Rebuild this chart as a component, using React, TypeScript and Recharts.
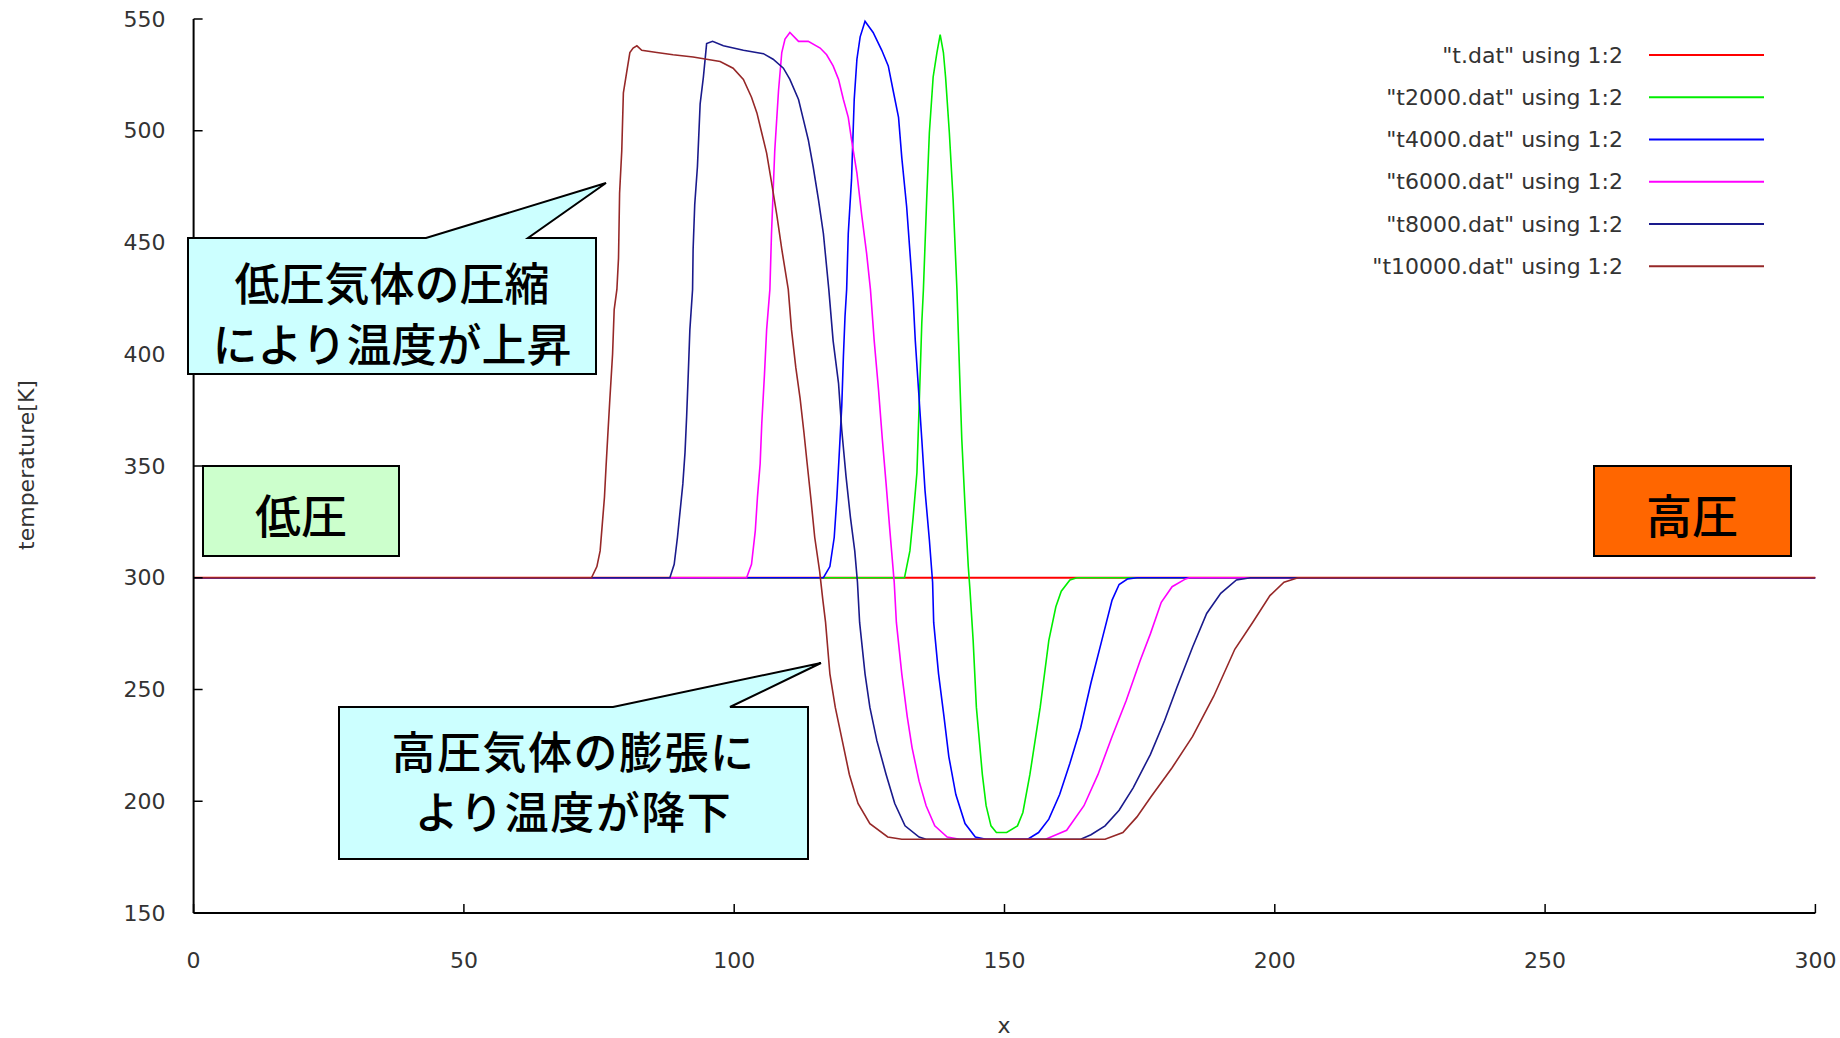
import React from "react";
import { LineChart, Line, XAxis, YAxis, Legend } from "recharts";

// temperature profiles [x, temperature]
const T_DAT: [number, number][] = [[0, 300], [300, 300]];

const T2000: [number, number][] = [
  [0, 300], [131.5, 300], [132.5, 312], [133.1, 327], [133.8, 347], [134.1, 369], [134.4, 391],
  [134.7, 414], [135.0, 429], [135.6, 469], [136.1, 499], [136.8, 524], [137.5, 535], [138.1, 543],
  [138.7, 535], [139.1, 524], [139.8, 499], [140.5, 469], [141.2, 429], [141.7, 391], [142.1, 362],
  [142.7, 332], [143.3, 305], [143.6, 295], [144.2, 272], [144.8, 242], [145.9, 212], [146.6, 198],
  [147.5, 189], [148.5, 186], [150.4, 186], [152.4, 189], [153.4, 195], [154.7, 212], [156.6, 242],
  [158.2, 272], [159.5, 287], [160.5, 294], [162.1, 299], [163.4, 300], [300, 300],
];

const T4000: [number, number][] = [
  [0, 300], [116.5, 300], [117.7, 305], [118.5, 318], [119.0, 336], [119.4, 354], [119.9, 377],
  [120.2, 399], [120.5, 417], [120.8, 429], [121.1, 454], [121.7, 478], [122.2, 514], [122.7, 532],
  [123.3, 542], [124.2, 549], [125.7, 544], [127.3, 536], [128.5, 529], [129.4, 518], [130.4, 506],
  [131.0, 488], [131.9, 466], [132.8, 436], [133.1, 425], [133.5, 406], [134.1, 384], [134.7, 362],
  [135.3, 339], [136.1, 317], [136.7, 298], [136.9, 280], [137.8, 257], [138.8, 238], [139.7, 220],
  [141.0, 203], [142.7, 190], [144.6, 184], [146.6, 183], [154.3, 183], [156.3, 186], [158.2, 192],
  [160.2, 203], [162.1, 217], [164.1, 233], [166.0, 253], [168.0, 272], [169.9, 290], [171.2, 297],
  [172.8, 299.5], [174.5, 300], [300, 300],
];

const T6000: [number, number][] = [
  [0, 300], [102.3, 300], [103.2, 306], [103.9, 321], [104.3, 336], [104.8, 351], [105.1, 369],
  [105.6, 391], [106.0, 411], [106.6, 429], [106.9, 454], [107.5, 491], [108.2, 518], [108.8, 535],
  [109.4, 541], [110.3, 544], [111.9, 540], [113.7, 540], [115.9, 537], [117.1, 534], [118.3, 529],
  [119.3, 523], [120.2, 514], [121.1, 506], [121.7, 496], [122.7, 481], [123.6, 462], [124.5, 445],
  [125.2, 429], [125.9, 406], [126.7, 384], [127.4, 362], [128.1, 342], [128.8, 321], [129.6, 298],
  [130.0, 280], [131.0, 257], [132.0, 238], [132.9, 224], [134.2, 209], [135.5, 198], [137.1, 189],
  [139.4, 184], [141.7, 183], [157.6, 183], [161.5, 187], [164.7, 198], [167.3, 212], [169.9, 229],
  [172.5, 245], [175.1, 263], [177.0, 275], [179.0, 289], [181.0, 296], [183.5, 299.5], [184.2, 300],
  [300, 300],
];

const T8000: [number, number][] = [
  [0, 300], [88.1, 300], [88.9, 306], [89.5, 318], [90.0, 330], [90.5, 342], [90.9, 356], [91.2, 372],
  [91.5, 391], [91.8, 411], [92.3, 429], [92.4, 447], [92.7, 467], [93.2, 484], [93.7, 512], [94.3, 524],
  [94.9, 539], [96.0, 540], [98.0, 538], [101.7, 536], [105.4, 534.5], [107.2, 532], [109.1, 528],
  [110.3, 523], [111.9, 514], [112.8, 505], [113.7, 496], [114.6, 484], [115.6, 469], [116.5, 454],
  [117.5, 429], [118.3, 406], [119.3, 387], [119.9, 366], [120.7, 345], [121.5, 327], [122.3, 312],
  [122.8, 298], [123.2, 280], [124.2, 257], [125.1, 242], [126.4, 227], [128.1, 212], [129.7, 199],
  [131.6, 189], [134.2, 184], [135.5, 183], [164.1, 183], [166.0, 185], [168.6, 189], [171.2, 196],
  [173.8, 206], [177.0, 221], [179.6, 236], [181.9, 251], [184.8, 269], [187.4, 284], [190.0, 293],
  [192.9, 299], [195.5, 300], [300, 300],
];

const T10000: [number, number][] = [
  [0, 300], [73.6, 300], [74.6, 305], [75.2, 312], [75.6, 324], [76.0, 336], [76.3, 350], [76.6, 363],
  [77.0, 380], [77.5, 400], [77.8, 420], [78.3, 429], [78.6, 443], [78.8, 472], [79.2, 491], [79.5, 517],
  [80.1, 526], [80.7, 535], [81.3, 537], [82.0, 538], [82.9, 536], [85.7, 535], [88.7, 534], [92.4, 533],
  [94.9, 532], [97.4, 531], [99.8, 528], [101.7, 523], [103.2, 515], [104.2, 508], [105.1, 499],
  [106.0, 490], [106.9, 477], [107.9, 462], [108.8, 447], [110.0, 429], [110.6, 411], [111.4, 394],
  [112.2, 380], [112.9, 365], [113.5, 351], [114.2, 335], [114.9, 318], [115.8, 303], [116.4, 290],
  [116.9, 280], [117.7, 257], [118.7, 242], [120.0, 227], [121.3, 212], [122.9, 199], [125.1, 190],
  [128.4, 184], [131.0, 183], [168.6, 183], [171.9, 186], [174.5, 193], [177.1, 202], [181.0, 215],
  [184.8, 229], [188.7, 247], [192.6, 268], [195.9, 280], [199.1, 292], [201.7, 298], [204.3, 300],
  [300, 300],
];

const SERIES_NAMES = [
  '"t.dat" using 1:2',
  '"t2000.dat" using 1:2',
  '"t4000.dat" using 1:2',
  '"t6000.dat" using 1:2',
  '"t8000.dat" using 1:2',
  '"t10000.dat" using 1:2',
];
const SERIES_DATA = [T_DAT, T2000, T4000, T6000, T8000, T10000];
const COLORS = ["#ff0000", "#00ee00", "#0000ff", "#ff00ff", "#1a1a8c", "#962828"];

const X_TICKS = [0, 50, 100, 150, 200, 250, 300];
const Y_TICKS = [150, 200, 250, 300, 350, 400, 450, 500, 550];

const W = 1840;
const H = 1038;
const FONT = "'DejaVu Sans', sans-serif";
const JP = "'Noto Sans CJK JP', sans-serif";
const TICK = 9;

const toPts = (arr: [number, number][]) => arr.map(([x, y]) => ({ x, y }));

const BottomTick = (p: any) => (
  <g>
    <line x1={p.x} y1={p.y} x2={p.x} y2={p.y - TICK} stroke="#000" strokeWidth={1.5} />
    <text x={p.x} y={p.y + 47} textAnchor="middle" dominantBaseline="central"
      fontFamily={FONT} fontSize={22} fill="#333">{p.payload.value}</text>
  </g>
);
const TopTick = (p: any) => (
  <line x1={p.x} y1={p.y} x2={p.x} y2={p.y + TICK} stroke="#000" strokeWidth={1.5} />
);
const LeftTick = (p: any) => (
  <g>
    <line x1={p.x} y1={p.y} x2={p.x + TICK} y2={p.y} stroke="#000" strokeWidth={1.5} />
    <text x={p.x - 28} y={p.y} textAnchor="end" dominantBaseline="central"
      fontFamily={FONT} fontSize={22} fill="#333">{p.payload.value}</text>
  </g>
);
const RightTick = (p: any) => (
  <line x1={p.x} y1={p.y} x2={p.x - TICK} y2={p.y} stroke="#000" strokeWidth={1.5} />
);

const renderLegend = (props: any) => {
  // keep the plotting order (gnuplot key), not the alphabetical one
  const items = [...(props.payload || [])].sort(
    (a: any, b: any) => SERIES_NAMES.indexOf(a.value) - SERIES_NAMES.indexOf(b.value)
  );
  return (
    <svg width={W} height={300} style={{ position: "absolute", left: 0, top: 0, overflow: "visible" }}>
      {items.map((it: any, i: number) => {
        const cy = 55 + i * 42.25;
        return (
          <g key={i}>
            <text x={1623} y={cy} textAnchor="end" dominantBaseline="central"
              fontFamily={FONT} fontSize={22} fill="#333">{it.value}</text>
            <line x1={1649} y1={cy} x2={1764} y2={cy} stroke={it.color} strokeWidth={2} />
          </g>
        );
      })}
    </svg>
  );
};

export default function App() {
  return (
    <div style={{ position: "absolute", left: 0, top: 0, width: W, height: H, background: "#fff" }}>
      <LineChart width={W} height={H} margin={{ top: 19, right: 24.6, bottom: 0, left: 0 }}>
        <XAxis dataKey="x" type="number" domain={[0, 300]} ticks={X_TICKS} height={125}
          tickSize={0} tickMargin={0} tickLine={false} tick={BottomTick}
          axisLine={{ stroke: "#000", strokeWidth: 2 }} allowDataOverflow />
        <XAxis xAxisId="top" orientation="top" dataKey="x" type="number" domain={[0, 300]}
          ticks={X_TICKS} height={0} tickSize={0} tickMargin={0} tickLine={false} tick={TopTick}
          axisLine={{ stroke: "#000", strokeWidth: 2 }} />
        <YAxis type="number" domain={[150, 550]} ticks={Y_TICKS} width={193.6}
          tickSize={0} tickMargin={0} tickLine={false} tick={LeftTick}
          axisLine={{ stroke: "#000", strokeWidth: 2 }} allowDataOverflow />
        <YAxis yAxisId="right" orientation="right" type="number" domain={[150, 550]} ticks={Y_TICKS}
          width={0} tickSize={0} tickMargin={0} tickLine={false} tick={RightTick}
          axisLine={{ stroke: "#000", strokeWidth: 2 }} />
        <Legend content={renderLegend}
          wrapperStyle={{ position: "absolute", left: 0, top: 0, width: W, height: 0 }} />
        {SERIES_DATA.map((d, i) => (
          <Line key={SERIES_NAMES[i]} name={SERIES_NAMES[i]} data={toPts(d)} dataKey="y"
            type="linear" stroke={COLORS[i]} strokeWidth={i === 0 ? 2.2 : 1.6} dot={false}
            activeDot={false} isAnimationActive={false} />
        ))}
      </LineChart>

      <svg width={W} height={H} style={{ position: "absolute", left: 0, top: 0, pointerEvents: "none" }}>
        <text transform="translate(26,465) rotate(-90)" textAnchor="middle" dominantBaseline="central"
          fontFamily={FONT} fontSize={22} fill="#333">temperature[K]</text>
        <text x={1004} y={1025} textAnchor="middle" dominantBaseline="central"
          fontFamily={FONT} fontSize={22} fill="#333">x</text>

        <path d="M188,238 L426,238 L606,183 L528,238 L596,238 L596,374 L188,374 Z"
          fill="#ccffff" stroke="#000" strokeWidth={2} />
        <text x={392} y={281} textAnchor="middle" dominantBaseline="central" fontFamily={JP}
          fontSize={45} fontWeight={500} fill="#000">低圧気体の圧縮</text>
        <text x={392} y={342} textAnchor="middle" dominantBaseline="central" fontFamily={JP}
          fontSize={45} fontWeight={500} fill="#000">により温度が上昇</text>

        <path d="M339,707 L613,707 L821,663 L730,707 L808,707 L808,859 L339,859 Z"
          fill="#ccffff" stroke="#000" strokeWidth={2} />
        <text x={573.5} y={750} textAnchor="middle" dominantBaseline="central" fontFamily={JP}
          fontSize={44} fontWeight={500} letterSpacing={1.5} fill="#000">高圧気体の膨張に</text>
        <text x={573.5} y={810} textAnchor="middle" dominantBaseline="central" fontFamily={JP}
          fontSize={44} fontWeight={500} letterSpacing={1.5} fill="#000">より温度が降下</text>

        <rect x={203} y={466} width={196} height={90} fill="#ccffcc" stroke="#000" strokeWidth={2} />
        <text x={301} y={513} textAnchor="middle" dominantBaseline="central" fontFamily={JP}
          fontSize={46} fontWeight={500} fill="#000">低圧</text>

        <rect x={1594} y={466} width={197} height={90} fill="#ff6600" stroke="#000" strokeWidth={2} />
        <text x={1692} y={513} textAnchor="middle" dominantBaseline="central" fontFamily={JP}
          fontSize={46} fontWeight={500} fill="#000">高圧</text>
      </svg>
    </div>
  );
}
